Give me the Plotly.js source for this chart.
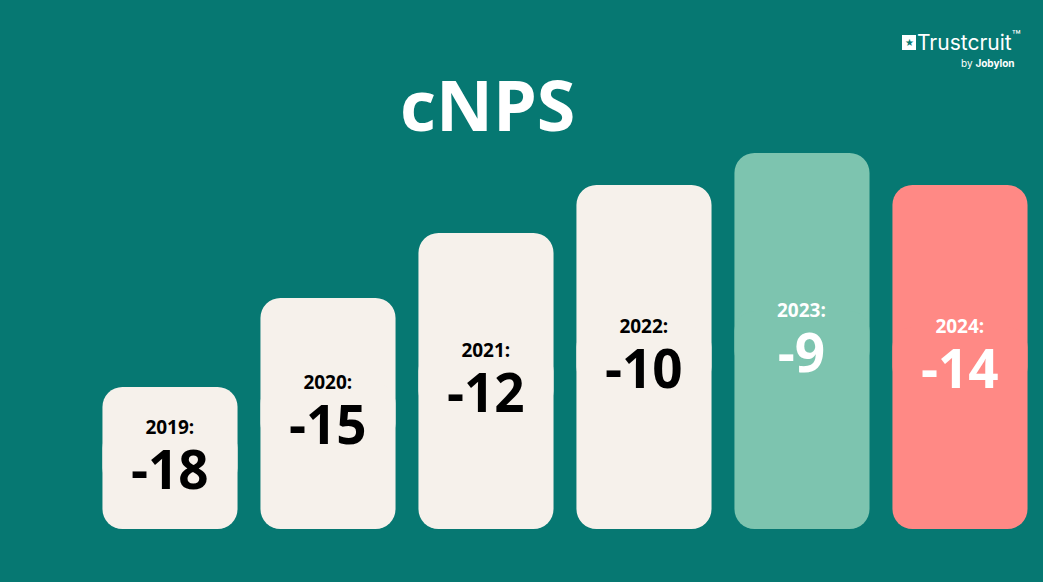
<!DOCTYPE html>
<html><head><meta charset="utf-8">
<script src="https://cdn.plot.ly/plotly-3.0.1.min.js"></script>
<style>html,body{margin:0;padding:0;background:#067872;}</style>
</head><body>
<div id="chart" style="width:1043px;height:582px;"></div>
<script>
// Data
const years = ['2019', '2020', '2021', '2022', '2023', '2024'];
const cnps = [-18, -15, -12, -10, -9, -14];
// visual bar heights as drawn in the infographic (arbitrary units)
const barHeight = [142, 231, 296, 344, 376, 344];
const barColors = ['#F6F1EB', '#F6F1EB', '#F6F1EB', '#F6F1EB', '#7DC4AF', '#FF8985'];
const textColors = ['#000000', '#000000', '#000000', '#000000', '#FFFFFF', '#FFFFFF'];

const half = barHeight.map(h => h / 2);
const overlap = 30;
const upperBase = half.map(v => v - overlap);
const upperLen = barHeight.map((h, i) => h - upperBase[i]);
const lowerBase = half.map(v => v + overlap);
const lowerLen = lowerBase.map(v => -v);

const common = {
  type: 'bar', x: years, width: 0.855,
  hoverinfo: 'skip', showlegend: false
};
const upper = Object.assign({}, common, {
  base: upperBase, y: upperLen,
  marker: {color: barColors, cornerradius: 20, line: {width: 0}}
});
const lower = Object.assign({}, common, {
  base: lowerBase, y: lowerLen,
  marker: {color: barColors, cornerradius: 20, line: {width: 0}}
});

const annotations = [];
years.forEach((yr, i) => {
  annotations.push({
    x: i, y: half[i], xref: 'x', yref: 'y',
    text: '<span style="font-size:19px"><b>' + yr + ':</b></span><br><span style="font-size:53px"><b>' + cnps[i] + '</b></span>',
    showarrow: false, yshift: -1, yanchor: 'middle', borderpad: 0,
    font: {family: 'Open Sans, Noto Sans, sans-serif', size: 42, color: textColors[i]}
  });
});
// title
annotations.push({
  xref: 'paper', yref: 'paper', x: 487 / 1043, y: 1 - 104 / 582,
  text: '<b>cNPS</b>', showarrow: false, xanchor: 'center', yanchor: 'middle',
  font: {family: 'Open Sans, Noto Sans, sans-serif', size: 70, color: '#FFFFFF'}
});
// logo
annotations.push({
  xref: 'paper', yref: 'paper', x: 1022 / 1043, y: 1 - 56 / 582,
  text: 'Trustcruit<sup>™</sup>', showarrow: false, xanchor: 'right', yanchor: 'bottom', borderpad: 0,
  font: {family: 'Inter, Open Sans, sans-serif', size: 21, color: '#FFFFFF'}
});
annotations.push({
  xref: 'paper', yref: 'paper', x: 1016 / 1043, y: 1 - 56 / 582,
  text: 'by <b>Jobylon</b>', showarrow: false, xanchor: 'right', yanchor: 'top', borderpad: 0,
  font: {family: 'Inter, Open Sans, sans-serif', size: 10, color: '#FFFFFF'}
});
annotations.push({
  xref: 'paper', yref: 'paper', x: 909 / 1043, y: 1 - 43 / 582,
  text: '★', showarrow: false, xanchor: 'center', yanchor: 'middle',
  font: {family: 'DejaVu Sans, sans-serif', size: 10, color: '#067872'}
});

const shapes = [{
  type: 'rect', xref: 'paper', yref: 'paper', layer: 'below',
  x0: 902 / 1043, x1: 916 / 1043, y0: 1 - 50 / 582, y1: 1 - 35 / 582,
  fillcolor: '#FFFFFF', line: {width: 0}
}];

const layout = {
  width: 1043, height: 582,
  margin: {l: 0, r: 0, t: 0, b: 0},
  paper_bgcolor: '#067872', plot_bgcolor: '#067872',
  barmode: 'overlay',
  xaxis: {type: 'category', range: [-1.0759, 5.5254], visible: false, fixedrange: true},
  yaxis: {range: [-53, 529], visible: false, fixedrange: true},
  annotations: annotations,
  shapes: shapes
};

Plotly.newPlot('chart', [upper, lower], layout, {displayModeBar: false, staticPlot: true});
</script>
</body></html>
